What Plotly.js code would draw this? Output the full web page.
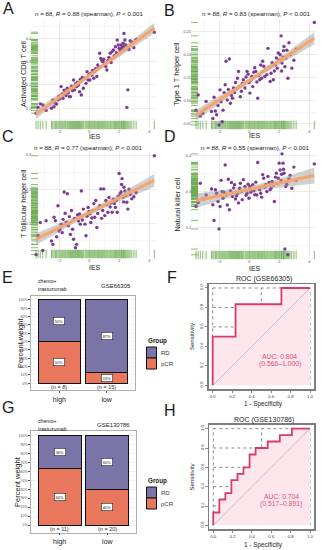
<!DOCTYPE html>
<html><head><meta charset="utf-8">
<script src="https://cdn.plot.ly/plotly-3.0.1.min.js"></script>
<style>html,body{margin:0;padding:0;background:#fff}#chart{width:327px;height:550px}</style>
</head><body><div id="chart"></div>
<script>
// ---------------- data ----------------
const ies = [
-3.55,-3.41,-3.27,-3.1,-2.88,-2.52,-2.43,-2.35,-2.26,-2.18,-2.09,
-2.02,-1.95,-1.88,-1.81,-1.75,-1.68,-1.61,-1.55,-1.47,-1.4,-1.33,
-1.26,-1.19,-1.12,-1.05,-0.98,-0.92,-0.85,-0.79,-0.72,-0.65,-0.6,
-0.53,-0.47,-0.4,-0.29,-0.22,-0.15,-0.08,-0.02,0.04,0.1,0.17,
0.23,0.3,0.36,0.43,0.5,0.56,0.62,0.69,0.76,0.82,0.89,
0.96,1.03,1.1,1.17,1.24,1.31,1.39,1.45,1.52,1.6,1.67,
1.74,1.8,1.86,1.93,1.99,2.05,2.12,2.18,2.25,2.31,2.37,
2.43,2.5,2.57,2.64,2.72,2.83,2.97,3.12,2.15,2.28,4.33];
const cd8 = [
0.079,0.104,0.119,0.114,0.091,0.1,0.136,0.107,0.121,0.118,0.136,
0.152,0.141,0.193,0.162,0.143,0.178,0.171,0.155,0.186,0.166,0.15,
0.15,0.195,0.175,0.221,0.179,0.205,0.193,0.212,0.2,0.171,0.224,
0.157,0.232,0.186,0.229,0.207,0.257,0.221,0.245,0.221,0.25,0.243,
0.262,0.229,0.257,0.27,0.236,0.286,0.275,0.336,0.314,0.307,0.3,
0.31,0.293,0.279,0.264,0.305,0.318,0.336,0.296,0.343,0.35,0.325,
0.364,0.338,0.393,0.371,0.357,0.348,0.371,0.36,0.379,0.421,0.393,
0.371,0.104,0.179,0.352,0.39,0.383,0.36,0.395,0.355,0.365,0.426];
const th1 = [
0.080,0.113,0.067,0.073,0.099,0.077,0.062,0.108,0.078,0.07,0.09,
0.048,0.124,0.098,0.055,0.08,0.118,0.135,0.186,0.102,0.125,0.191,
0.095,0.112,0.106,0.128,0.118,0.14,0.126,0.149,0.164,0.131,0.109,
0.121,0.138,0.146,0.128,0.152,0.164,0.158,0.14,0.117,0.145,0.153,
0.131,0.162,0.172,0.164,0.141,0.106,0.155,0.146,0.178,0.149,0.186,
0.175,0.153,0.168,0.157,0.214,0.173,0.142,0.16,0.183,0.146,0.165,
0.178,0.193,0.171,0.204,0.188,0.2,0.241,0.182,0.195,0.218,0.174,
0.193,0.21,0.149,0.226,0.2,0.171,0.188,0.212,0.165,0.209,0.27];
const tfh = [
0.009,0.064,0.103,0.021,0.108,0.049,0.039,0.118,0.108,0.061,0.152,
0.078,0.083,0.098,0.073,0.112,0.192,0.13,0.104,0.187,0.093,0.12,
0.068,0.138,0.083,0.054,0.115,0.029,0.039,0.125,0.107,0.128,0.098,
0.195,0.11,0.142,0.098,0.064,0.121,0.147,0.135,0.128,0.103,0.116,
0.137,0.158,0.118,0.167,0.088,0.129,0.145,0.152,0.201,0.115,0.138,
0.201,0.123,0.167,0.155,0.133,0.176,0.148,0.16,0.133,0.171,0.158,
0.147,0.168,0.133,0.18,0.246,0.187,0.192,0.231,0.177,0.206,0.195,
0.182,0.162,0.142,0.2,0.185,0.172,0.178,0.19,0.214,0.163,0.298];
const nk = [
0.258,0.269,0.323,0.279,0.29,0.307,0.263,0.219,0.305,0.295,0.272,
0.195,0.258,0.331,0.3,0.281,0.297,0.374,0.29,0.262,0.334,0.249,
0.302,0.325,0.286,0.31,0.319,0.279,0.288,0.295,0.268,0.309,0.323,
0.3,0.277,0.333,0.314,0.289,0.295,0.32,0.281,0.314,0.298,0.305,
0.319,0.302,0.291,0.326,0.29,0.381,0.31,0.305,0.295,0.284,0.347,
0.337,0.312,0.319,0.3,0.342,0.325,0.305,0.309,0.328,0.318,0.272,
0.34,0.351,0.322,0.337,0.379,0.36,0.33,0.405,0.379,0.351,0.139,
0.314,0.32,0.123,0.335,0.345,0.309,0.368,0.331,0.348,0.362,0.377];
const cellLabels = ['Activated CD8 T cell','Type 1 T helper cell','T follicular helper cell','Natural killer cell'];
const spearmanR = ['0.88','0.83','0.77','0.55'];
const nSamples = 88;

const groups = ['high','low'];
const groupKeys = ['RD','pCR'];
const gse66305_pCR = [4, 2];
const gse66305_RD  = [4, 13];
const gse130786_pCR = [7, 8];
const gse130786_RD  = [4, 12];

const rocF_fpr = [0, 0.235, 0.706, 1];
const rocF_tpr = [0, 0.5, 0.833, 1];
const rocF_auc = ['AUC: 0.804', '(0.566–1.000)'];
const rocH_fpr = [0, 0.0625, 0.125, 0.1875, 0.25, 0.3125, 0.375, 0.4375, 0.5625, 0.6875, 0.8125, 1];
const rocH_tpr = [0, 0.133, 0.267, 0.333, 0.467, 0.533, 0.6, 0.733, 0.8, 0.867, 0.933, 1];
const rocH_auc = ['AUC: 0.704', '(0.517–0.891)'];
const rocTicks = [0, 0.2, 0.4, 0.6, 0.8, 1];
const rocTickText = ['0.0','0.2','0.4','0.6','0.8','1.0'];
const rocGridH = [0.2, 0.4, 0.6, 0.8, 1.0];
const rocGridV = [0, 0.5, 1];

// ---------------- style ----------------
const W = 327, H = 550;
const FONT = 'Liberation Sans, Arial, Helvetica, sans-serif';
const PURPLE = '#7d3a93', GREEN = '#6aaa4e', ORANGE = '#f5a46c';
const COL_RD = '#7a74a8', COL_PCR = '#e8775b';
const ROC_RED = '#dc3a64', ROC_FILL = '#fde7ec', AUC_COL = '#df4f76';
const dX = (a,b) => [a/W, b/W];
const dY = (t,b) => [1-b/H, 1-t/H];
const PX = p => p/W, PY = p => 1 - p/H;

const traces = [];
const layout = {
  width: W, height: H, margin: {l:0,r:0,t:0,b:0},
  paper_bgcolor: '#fff', plot_bgcolor: '#fff',
  showlegend: false, hovermode: false, barmode: 'stack',
  font: {family: FONT, color: '#1a1a1a'},
  annotations: [], shapes: []
};
function ann(text, x, y, size, opts) {
  layout.annotations.push(Object.assign({text, x: PX(x), y: PY(y), xref:'paper', yref:'paper',
    showarrow:false, xanchor:'center', yanchor:'middle', font:{size, family:FONT, color:'#1a1a1a'}}, opts||{}));
}

// ---------------- scatter panels A-D ----------------
function fitLine(x, y) {
  const n = x.length;
  const mx = x.reduce((a,b)=>a+b,0)/n, my = y.reduce((a,b)=>a+b,0)/n;
  let sxx=0, sxy=0;
  for (let i=0;i<n;i++){ sxx+=(x[i]-mx)**2; sxy+=(x[i]-mx)*(y[i]-my); }
  const b = sxy/sxx, a = my - b*mx;
  let sse=0; for (let i=0;i<n;i++) sse += (y[i]-a-b*x[i])**2;
  const s = Math.sqrt(sse/(n-2)), t = 1.988;
  const x0 = Math.min(...x), x1 = Math.max(...x);
  const xs=[], yh=[], lo=[], hi=[];
  for (let k=0;k<=80;k++){
    const xv = x0 + (x1-x0)*k/80, yv = a + b*xv;
    const se = s*Math.sqrt(1/n + (xv-mx)**2/sxx);
    xs.push(xv); yh.push(yv); lo.push(yv - t*se); hi.push(yv + t*se);
  }
  return {xs, yh, lo, hi};
}

const scPanels = [
  {y: cd8, ax:'', px:[32,157], py:[20,128], yr:[0.0156,0.4784], dt:0.1, fmt:'.1f', letter:'A', lx:8, ly:9,  tx:89,  ty:13,  ylx:24,  iesY:136},
  {y: th1, ax:'2', px:[192,317], py:[20,128], yr:[0.0413,0.2754], dt:0.05, fmt:'.2f', letter:'B', lx:170, ly:10, tx:256, ty:13, ylx:177, iesY:135},
  {y: tfh, ax:'3', px:[32,157], py:[151,257], yr:[0.002,0.3118], dt:0.1, fmt:'.1f', letter:'C', lx:8, ly:137, tx:88, ty:147, ylx:24, iesY:267},
  {y: nk,  ax:'4', px:[192,317], py:[151,258], yr:[0.114,0.413], dt:0.1, fmt:'.1f', letter:'D', lx:170, ly:137, tx:255, ty:147, ylx:177, iesY:268}
];
const XR = [-3.82, 4.51];
scPanels.forEach((p, i) => {
  const xa = 'x'+p.ax, ya = 'y'+p.ax;
  const gridMaj = {showgrid:true, gridcolor:'#e4e4e4', gridwidth:0.7};
  layout['xaxis'+p.ax] = Object.assign({domain: dX(p.px[0],p.px[1]), range: XR, anchor: ya,
    tickmode:'linear', tick0:0, dtick:2, zeroline:false, showline:false, ticks:'',
    tickfont:{size:3.8, color:'#4d4d4d'}, ticklabelstandoff: 0,
    minor:{dtick:1, showgrid:true, gridcolor:'#eeeeee', gridwidth:0.5}}, gridMaj);
  layout['yaxis'+p.ax] = Object.assign({domain: dY(p.py[0],p.py[1]), range: p.yr, anchor: xa,
    tickmode:'linear', tick0:0, dtick:p.dt, tickformat:p.fmt, zeroline:false, showline:false, ticks:'',
    tickfont:{size:3.8, color:'#4d4d4d'}, ticklabelstandoff: 0,
    minor:{dtick:p.dt/2, showgrid:true, gridcolor:'#eeeeee', gridwidth:0.5}}, gridMaj);
  const f = fitLine(ies, p.y);
  const hpx = p.py[1]-p.py[0], wpx = p.px[1]-p.px[0];
  // rugs
  traces.push({type:'scatter', mode:'markers', xaxis:xa, yaxis:ya, x: ies,
    y: ies.map(()=> p.yr[0] + (p.yr[1]-p.yr[0])*3/hpx),
    marker:{symbol:'line-ns-open', size:6, color:GREEN, line:{width:0.8, color:GREEN}}, cliponaxis:false});
  traces.push({type:'scatter', mode:'markers', xaxis:xa, yaxis:ya, y: p.y,
    x: p.y.map(()=> XR[0] + (XR[1]-XR[0])*2.5/wpx),
    marker:{symbol:'line-ew-open', size:5, color:GREEN, line:{width:0.8, color:GREEN}}, cliponaxis:false});
  // points
  traces.push({type:'scatter', mode:'markers', xaxis:xa, yaxis:ya, x: ies, y: p.y,
    marker:{size:3.4, color:PURPLE}});
  // confidence band + line
  traces.push({type:'scatter', mode:'lines', xaxis:xa, yaxis:ya,
    x: f.xs.concat(f.xs.slice().reverse()), y: f.hi.concat(f.lo.slice().reverse()),
    fill:'toself', fillcolor:'rgba(150,150,150,0.45)', line:{width:0}});
  traces.push({type:'scatter', mode:'lines', xaxis:xa, yaxis:ya, x: f.xs, y: f.yh,
    line:{color:ORANGE, width:3}});
  ann('n = '+nSamples+', <i>R</i> = '+spearmanR[i]+' (spearman), <i>P</i> &lt; 0.001', p.tx, p.ty, 6.2);
  ann(cellLabels[i], p.ylx, (p.py[0]+p.py[1])/2, 7.3, {textangle:-90});
  ann('IES', (p.px[0]+p.px[1])/2, p.iesY, 7);
  ann(p.letter, p.lx, p.ly, 16);
});

// ---------------- stacked bar panels E, G ----------------
const barPanels = [
  {pcr: gse66305_pCR, rd: gse66305_RD, ax:'5', px:[31,135], py:[295.8,390.4], gse:'GSE66305', gx:116, gy:285.5, cy:[280.5,288.5], letter:'E', lx:7, ly:277, legY:341, plx:20},
  {pcr: gse130786_pCR, rd: gse130786_RD, ax:'7', px:[31,136], py:[431.2,532.6], gse:'GSE130786', gx:113, gy:425, cy:[420.5,428.5], letter:'G', lx:8, ly:407, legY:481, plx:18}
];
const pctVals = [0,0.1,0.2,0.3,0.4,0.5,0.6,0.7,0.8,0.9,1];
barPanels.forEach(p => {
  const xa = 'x'+p.ax, ya = 'y'+p.ax;
  const idx = groups.map((g,i)=>i);
  const tot = idx.map(i => p.pcr[i] + p.rd[i]);
  const fP = idx.map(i => p.pcr[i]/tot[i]);
  const fR = idx.map(i => p.rd[i]/tot[i]);
  layout['xaxis'+p.ax] = {domain: dX(p.px[0],p.px[1]), range:[-0.6,1.6], anchor: ya,
    tickmode:'array', tickvals: idx, ticktext: groups, ticks:'outside', ticklen:2, tickcolor:'#555',
    tickfont:{size:7, color:'#222'}, showgrid:false, zeroline:false,
    showline:true, mirror:true, linecolor:'#9a9a9a', linewidth:0.8};
  layout['yaxis'+p.ax] = {domain: dY(p.py[0],p.py[1]), range:[-0.085,1.05], anchor: xa,
    tickmode:'array', tickvals: pctVals, ticktext: pctVals.map(v=>Math.round(v*100)+'%'),
    ticks:'outside', ticklen:2, tickcolor:'#555', tickfont:{size:3.5, color:'#4d4d4d'},
    showgrid:true, gridcolor:'#ebebeb', gridwidth:0.6, zeroline:false,
    minor:{dtick:0.05, tick0:0, showgrid:true, gridcolor:'#f2f2f2', gridwidth:0.5},
    showline:true, mirror:true, linecolor:'#9a9a9a', linewidth:0.8};
  traces.push({type:'bar', xaxis:xa, yaxis:ya, x: idx, y: fP, width:0.9,
    marker:{color:COL_PCR, line:{color:'#111', width:1}}});
  traces.push({type:'bar', xaxis:xa, yaxis:ya, x: idx, y: fR, width:0.9,
    marker:{color:COL_RD, line:{color:'#111', width:1}}});
  idx.forEach(i => {
    const lab = (txt, yv) => layout.annotations.push({text: txt, x: i, y: yv, xref: xa, yref: ya,
      showarrow:false, bgcolor:'#fff', bordercolor:'#222', borderwidth:0.6, borderpad:1.1,
      font:{size:3.9, family:FONT, color:'#222'}});
    lab(Math.round(fP[i]*100)+'%', fP[i]/2);
    lab(Math.round(fR[i]*100)+'%', fP[i] + fR[i]/2);
    layout.annotations.push({text:'(n = '+tot[i]+')', x:i, y:-0.045, xref:xa, yref:ya, showarrow:false,
      font:{size:5.5, family:FONT, color:'#333'}});
  });
  ann('chemo+', 36, p.cy[0], 5.2, {xanchor:'left'});
  ann('trastuzumab', 36, p.cy[1], 5.2, {xanchor:'left'});
  ann(p.gse, p.gx, p.gy, 6);
  ann('Percent weight', p.plx, (p.py[0]+p.py[1])/2, 7.5, {textangle:-90});
  ann(p.letter, p.lx, p.ly, 16);
  // legend
  ann('<b>Group</b>', 145.5, p.legY, 6.3, {xanchor:'left'});
  [[COL_RD, groupKeys[0]], [COL_PCR, groupKeys[1]]].forEach(([c, t], k) => {
    const y0 = p.legY + 6 + k*11;
    layout.shapes.push({type:'rect', xref:'paper', yref:'paper', x0:PX(146.5), x1:PX(156.5),
      y0:PY(y0), y1:PY(y0+11), fillcolor:c, line:{color:'#111', width:1}});
    ann(t, 159, y0+5.5, 6, {xanchor:'left', font:{size:6, family:FONT, color:'#333'}});
  });
});

// ---------------- ROC panels F, H ----------------
const rocPanels = [
  {fpr: rocF_fpr, tpr: rocF_tpr, auc: rocF_auc, ax:'6', px:[208.8,313.9], py:[284.1,389.2], title:'ROC (GSE66305)', ty:279, letter:'F', lx:172, ly:277, aucX:0.69, xly:404, sy:336.5},
  {fpr: rocH_fpr, tpr: rocH_tpr, auc: rocH_auc, ax:'8', px:[209.4,313.9], py:[424.8,529.2], title:'ROC (GSE130786)', ty:420, letter:'H', lx:170, ly:410, aucX:0.70, xly:545, sy:477}
];
rocPanels.forEach(p => {
  const xa = 'x'+p.ax, ya = 'y'+p.ax;
  const base = {range:[-0.04,1.04], tickmode:'array', tickvals: rocTicks, ticktext: rocTickText,
    ticks:'outside', ticklen:2.5, tickcolor:'#555', tickwidth:0.7, tickfont:{size:4.3, color:'#333'},
    showgrid:false, zeroline:false, showline:true, mirror:true, linecolor:'#7d7d7d', linewidth:1.6};
  layout['xaxis'+p.ax] = Object.assign({domain: dX(p.px[0],p.px[1]), anchor: ya}, base);
  layout['yaxis'+p.ax] = Object.assign({domain: dY(p.py[0],p.py[1]), anchor: xa, tickangle:-90}, base);
  // dotted grid
  const gx=[], gy=[];
  rocGridH.forEach(v => { gx.push(0,1,null); gy.push(v,v,null); });
  rocGridV.forEach(v => { gx.push(v,v,null); gy.push(0,1,null); });
  traces.push({type:'scatter', mode:'lines', xaxis:xa, yaxis:ya, x:gx, y:gy,
    line:{color:'#555', width:0.7, dash:'dot'}});
  traces.push({type:'scatter', mode:'lines', xaxis:xa, yaxis:ya, x:p.fpr, y:p.tpr,
    line:{shape:'vh', width:0}, fill:'tozeroy', fillcolor:ROC_FILL});
  traces.push({type:'scatter', mode:'lines', xaxis:xa, yaxis:ya, x:[0,1], y:[0,1],
    line:{color:'#a8a8a8', width:0.7}});
  traces.push({type:'scatter', mode:'lines', xaxis:xa, yaxis:ya, x:p.fpr, y:p.tpr,
    line:{shape:'vh', color:ROC_RED, width:1.8}});
  [0.298, 0.219].forEach((yv,k) => layout.annotations.push({text:p.auc[k], x:p.aucX, y:yv, xref:xa, yref:ya,
    showarrow:false, font:{size:6.8, family:FONT, color:AUC_COL}}));
  ann(p.title, 264, p.ty, 7);
  ann('1 - Specificity', 263, p.xly, 6.4);
  ann('Sensitivity', 191.5, p.sy, 6, {textangle:-90});
  ann(p.letter, p.lx, p.ly, 16);
});

Plotly.newPlot('chart', traces, layout, {staticPlot:true, displayModeBar:false});
</script></body></html>
